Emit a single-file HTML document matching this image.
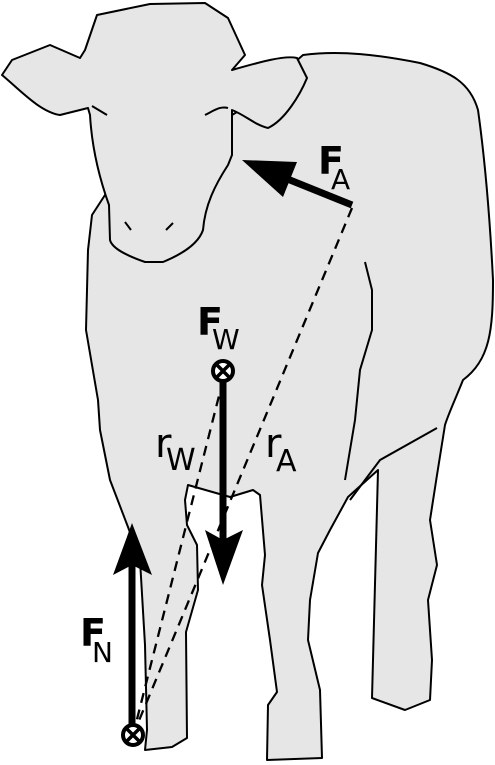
<!DOCTYPE html>
<html><head><meta charset="utf-8"><style>
html,body{margin:0;padding:0;background:#fff;width:495px;height:765px;overflow:hidden}
svg{display:block}
text{font-family:"DejaVu Sans","Liberation Sans",sans-serif;fill:#000}
</style></head><body>
<svg width="495" height="765" viewBox="0 0 495 765">
<g fill="#e6e6e6" stroke="#000" stroke-width="2" stroke-linejoin="round">
<path d="M240,110 L303,55 C340,50 380,55 420,63 C450,72 470,82 478,110 C485,160 490,220 493,280 C493,330 490,360 463,380 C455,400 448,415 445,425 L437,475 L430,520 L437,565 L428,600 L432,660 L430,700 L405,710 L372,698 L378,470 L348,497 L330,530 L318,553 L310,600 L308,640 L320,690 L322,758 L267,760 L268,705 L277,692 L270,640 L262,585 L265,555 L260,495 L253,490 L230,497 L188,485 L185,500 L187,525 L197,545 L198,590 L186,632 L187,738 L172,747 L145,750 L147,730 L145,645 L140,560 L128,527 L110,480 L100,430 L98,400 L86,330 L88,250 L92,215 L105,195 Z"/>
</g>
<g fill="none" stroke="#000" stroke-width="2">
<path d="M365,262 L372,290 L372,330 L360,370 L355,420 L345,480"/>
<path d="M437,428 L380,460 L350,500"/>
</g>
<g fill="#e6e6e6" stroke="#000" stroke-width="2" stroke-linejoin="round">
<path d="M88,108 L60,115 C40,112 20,90 2,75 L12,60 L50,45 L80,58 L85,50 L97,15 L150,4 L205,3 L228,18 L245,55 L232,70 C260,62 285,55 297,58 L307,78 C300,95 285,120 268,128 C255,125 245,115 232,110 L232,155 L228,165 C215,185 205,205 203,230 C198,245 180,255 163,262 L145,262 C125,255 112,248 110,240 L109,205 C100,180 92,150 90,115 Z"/>
<path fill="none" d="M125,222 L131,230 M166,230 L173,223 M92,106 L107,115 M205,115 C215,110 220,106 228,108"/>
</g>
<g stroke="#000" stroke-width="2.3" stroke-dasharray="10,7" fill="none">
<line x1="352" y1="208" x2="133" y2="735"/>
<line x1="223" y1="380" x2="133" y2="735"/>
</g>
<g>
<line x1="352" y1="205" x2="280" y2="176" stroke="#000" stroke-width="7"/>
<polygon points="242,160 297,162 283,197" fill="#000"/>
</g>
<g>
<line x1="223" y1="380" x2="223" y2="545" stroke="#000" stroke-width="7"/>
<polygon points="223,585 205,530 223,540 243,530" fill="#000"/>
<circle cx="223" cy="371" r="10" fill="#fff" stroke="#000" stroke-width="4"/>
<path d="M217,365 L229,377 M229,365 L217,377" stroke="#000" stroke-width="3.5"/>
</g>
<g>
<line x1="132" y1="728" x2="132" y2="560" stroke="#000" stroke-width="7"/>
<polygon points="132,523 113,575 132,565 152,575" fill="#000"/>
<circle cx="133" cy="735" r="10" fill="#fff" stroke="#000" stroke-width="4"/>
<path d="M127,729 L139,741 M139,729 L127,741" stroke="#000" stroke-width="3.5"/>
</g>
<g><text x="318" y="174" font-size="38" font-weight="bold">F</text><text x="331" y="189" font-size="28">A</text></g>
<g><text x="197" y="335" font-size="38" font-weight="bold">F</text><text x="212" y="349" font-size="28">W</text></g>
<g><text x="80" y="646" font-size="38" font-weight="bold">F</text><text x="92" y="662" font-size="28">N</text></g>
<g><text x="155" y="457" font-size="40">r</text><text x="166" y="470" font-size="30">W</text></g>
<g><text x="265" y="457" font-size="40">r</text><text x="276" y="471" font-size="30">A</text></g>
</svg>
</body></html>
